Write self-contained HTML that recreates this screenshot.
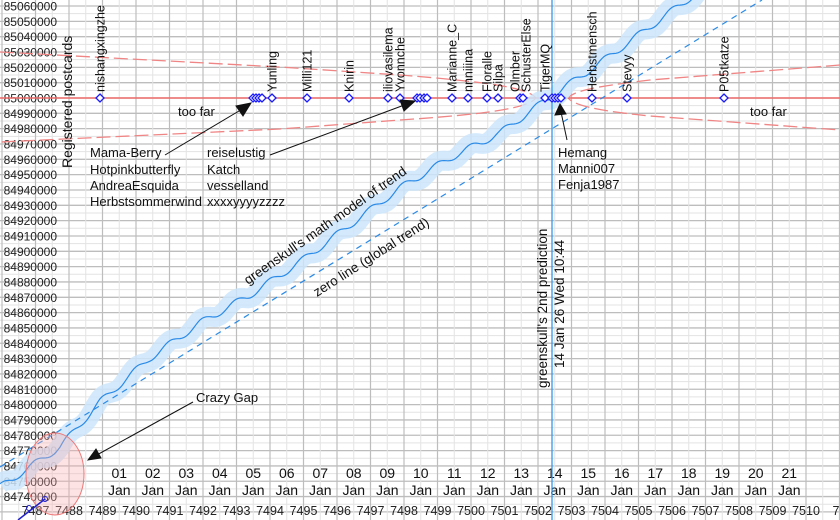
<!DOCTYPE html>
<html><head><meta charset="utf-8"><style>
html,body{margin:0;padding:0;background:#fff}
svg{display:block;font-family:"Liberation Sans",sans-serif}
</style></head><body>
<svg id="s" width="840" height="520" viewBox="0 0 840 520" xmlns="http://www.w3.org/2000/svg">
<g id="grid"></g>
<g id="ylab" font-size="12" fill="#222" text-anchor="end"></g>
<g id="xlab" font-size="12.5" fill="#222" text-anchor="middle"></g>
<g id="dlab" font-size="14" fill="#111" text-anchor="middle"></g>
<g fill="none" stroke="#f08585" stroke-width="1.3" stroke-dasharray="14,5">
<path d="M0,52 L280,67 L400,75 C490,82 528,88 536,98 C528,108 490,114 400,120 L280,129 L0,142"/>
<path d="M840,65 L650,80 C600,86 575,90 568,98 C575,106 600,111 650,116 L840,130"/>
</g>
<line x1="0" y1="98" x2="840" y2="98" stroke="#ee6a6a" stroke-width="1.5"/>
<path id="band" fill="none" stroke="#cde6fb" stroke-opacity="0.85" stroke-width="20"/>
<path id="sol" fill="none" stroke="#2a8ae8" stroke-width="1.2"/>
<line x1="0" y1="467" x2="762" y2="0" stroke="#2a8ae8" stroke-width="1.2" stroke-dasharray="6,5"/>
<line x1="552" y1="0" x2="552" y2="520" stroke="#3399ee" stroke-width="1.3"/>
<g id="dia" fill="#fff" stroke="#1a1aff" stroke-width="1.3"></g>
<g id="names" font-size="12.5" fill="#111"></g>
<ellipse cx="55" cy="474" rx="29" ry="41" fill="#f8b0b0" fill-opacity="0.35" stroke="#ee7777" stroke-width="1"/>
<path d="M18,520 L45,499" stroke="#2020cc" stroke-width="1.5"/>
<circle cx="29" cy="508" r="2.5" fill="none" stroke="#2020cc"/>
<circle cx="45" cy="499" r="2.5" fill="none" stroke="#2020cc"/>
<g font-size="13" fill="#111">
<text x="178" y="116">too far</text>
<text x="750" y="116">too far</text>
<text x="90" y="157">Mama-Berry</text>
<text x="90" y="174">Hotpinkbutterfly</text>
<text x="90" y="190">AndreaEsquida</text>
<text x="90" y="206">Herbstsommerwind</text>
<text x="207" y="157">reiselustig</text>
<text x="207" y="174">Katch</text>
<text x="207" y="190">vesselland</text>
<text x="207" y="206">xxxxyyyyzzzz</text>
<text x="558" y="157">Hemang</text>
<text x="558" y="173">Manni007</text>
<text x="558" y="189">Fenja1987</text>
<text x="196" y="402">Crazy Gap</text>
<text transform="translate(248,285) rotate(-35)" font-size="13.5">greenskull's math model of trend</text>
<text transform="translate(317,297) rotate(-32.6)" font-size="13.5">zero line (global trend)</text>
<text transform="translate(547,388) rotate(-90)" font-size="13.5">greenskull's 2nd prediction</text>
<text transform="translate(564,368) rotate(-90)" font-size="13.5">14 Jan 26 Wed 10:44</text>
<text transform="translate(72,168) rotate(-90)" font-size="14">Registered postcards</text>
</g>
<g stroke="#111" stroke-width="1" fill="#111">
<line x1="165" y1="155" x2="244" y2="108"/><polygon points="251,103 236,106 243,116"/>
<line x1="270" y1="155" x2="407" y2="104"/><polygon points="415,101 400,100 404,111"/>
<line x1="567" y1="140" x2="561" y2="112"/><polygon points="560,104 555,115 566,114"/>
<line x1="193" y1="402" x2="95" y2="456"/><polygon points="88,460 96,449 101,458"/>
</g>
</svg>
<script>
const NS="http://www.w3.org/2000/svg";
function el(p,t,a,txt){const e=document.createElementNS(NS,t);for(const k in a)e.setAttribute(k,a[k]);if(txt!==undefined)e.textContent=txt;document.getElementById(p).appendChild(e);return e;}
const Y=v=>98-(v-85000000)/10000*15.33;
const X=d=>538+(d-7502)*33.5;
for(let v=84730000;v<=85065000;v+=5000){const y=Y(v);const maj=v%10000===0;
 el('grid','line',{x1:0,x2:840,y1:y,y2:y,stroke:maj?'#bdbdbd':'#e3e3e3','stroke-width':maj?1.3:1});}
for(let d=7486;d<=7512;d++){const x=X(d);
 el('grid','line',{x1:x,x2:x,y1:0,y2:520,stroke:'#bdbdbd','stroke-width':1.2});
 el('grid','line',{x1:x+16.75,x2:x+16.75,y1:0,y2:520,stroke:'#e3e3e3','stroke-width':1});}
for(let v=84740000;v<=85060000;v+=10000){el('ylab','text',{x:57,y:Y(v)+4.5},String(v));}
for(let d=7487;d<=7510;d++){el('xlab','text',{x:X(d),y:515},String(d));}
el('xlab','text',{x:X(7511),y:515},'75');
for(let i=1;i<=21;i++){const x=X(7489)+16.75+(i-1)*33.5;
 el('dlab','text',{x:x,y:478},(i<10?'0':'')+i);el('dlab','text',{x:x,y:495},'Jan');}
const P=[[0,487],[60,447],[100,402],[150,358],[200,323],[250,295],[300,262],[400,188],[450,158],[500,133],[549,98],[600,63],[687,0],[760,-52]];
function base(x){for(let i=0;i<P.length-1;i++){if(x<=P[i+1][0]){const t=(x-P[i][0])/(P[i+1][0]-P[i][0]);return P[i][1]+t*(P[i+1][1]-P[i][1]);}}return P[P.length-1][1];}
let d='';for(let x=0;x<=740;x+=2){const y=base(x)+3.5*Math.sin(2*Math.PI*(x-10)/33.5);d+=(x?'L':'M')+x+','+y.toFixed(1);}
document.getElementById('sol').setAttribute('d',d);document.getElementById('band').setAttribute('d',d);
[100,253,256,259,262,272,307,349,388,400,417,420,424,427,452,468,487,498,520,523,545,552,555,558,561,592,627,724].forEach(x=>{
 el('dia','polygon',{points:`${x},94 ${x+4},98 ${x},102 ${x-4},98`});});
[[100,'nishangxingzhe'],[272,'Yunling'],[307,'Milli121'],[349,'Knirin'],[388,'iliovasilema'],[400,'Yvonnche'],[452,'Marianne_C'],[468,'nnniiina'],[487,'Floralle'],[498,'Silpa'],[515,'Olmber'],[526,'SchusterElse'],[545,'TigerMQ'],[592,'Herbstmensch'],[627,'Stevyy'],[724,'P05tkatze']].forEach(([x,t])=>{
 el('names','text',{transform:`translate(${x+4.5},92) rotate(-90)`},t);});
</script>
</body></html>
